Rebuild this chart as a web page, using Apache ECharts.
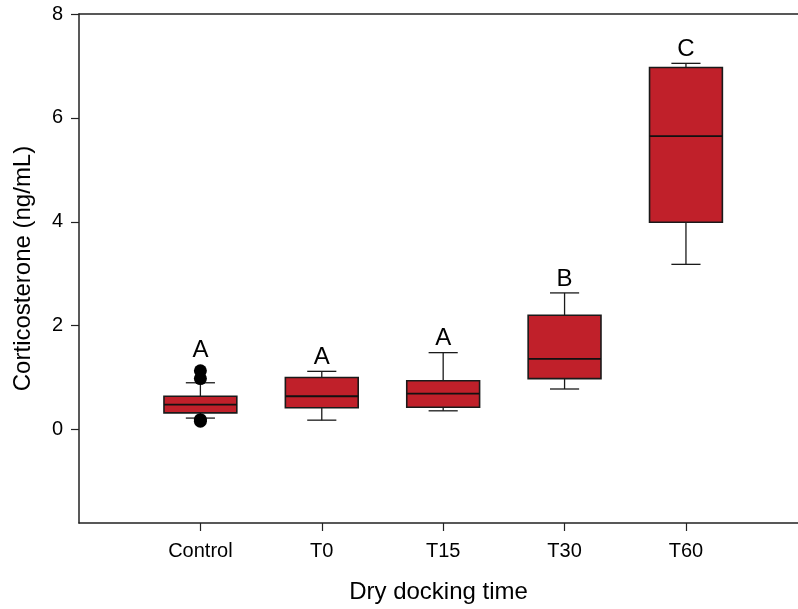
<!DOCTYPE html>
<html>
<head>
<meta charset="utf-8">
<script src="https://cdn.jsdelivr.net/npm/echarts@6/dist/echarts.min.js"></script>
<style>html,body{margin:0;padding:0;background:#fff}#c{width:798px;height:609px}</style>
</head>
<body>
<div id="c"></div>
<script>
const categories = ['Control', 'T0', 'T15', 'T30', 'T60'];
const whiskerLow  = [0.22, 0.18, 0.36, 0.78, 3.18];
const q1          = [0.32, 0.42, 0.43, 0.98, 3.99];
const median      = [0.48, 0.64, 0.69, 1.36, 5.65];
const q3          = [0.64, 1.00, 0.94, 2.20, 6.97];
const whiskerHigh = [0.90, 1.12, 1.48, 2.63, 7.05];
const outlierGroup = [0, 0, 0, 0];
const outlierValue = [1.13, 0.98, 0.19, 0.16];
const letters = ['A', 'A', 'A', 'B', 'C'];
const yTicks = [0, 2, 4, 6, 8];

const FONT = "'Liberation Sans', Arial, sans-serif";
const boxData = categories.map((c, i) => [i + 1, whiskerLow[i], q1[i], median[i], q3[i], whiskerHigh[i]]);
const outlierData = outlierGroup.map((g, i) => [g + 1, outlierValue[i]]);
const letterData = categories.map((c, i) => {
  let top = whiskerHigh[i];
  let hasOut = false;
  outlierGroup.forEach((g, k) => { if (g === i && outlierValue[k] > top) { top = outlierValue[k]; hasOut = true; } });
  return { value: [i + 1, top], label: { distance: hasOut ? 8 : 2 } };
});

const X_MAX = 5.923;
const chart = echarts.init(document.getElementById('c'));
chart.setOption({
  animation: false,
  backgroundColor: '#fff',
  grid: { left: 79, top: 14, right: 0, bottom: 86, containLabel: false },
  xAxis: [{
    type: 'value', min: 0, max: X_MAX, position: 'bottom',
    axisLine: { show: true, onZero: false, lineStyle: { color: '#222', width: 1.5 } },
    axisTick: { show: true, length: 8, customValues: [1, 2, 3, 4, 5], lineStyle: { color: '#222', width: 1.2 } },
    axisLabel: { customValues: [1, 2, 3, 4, 5], formatter: v => categories[Math.round(v) - 1] || '',
      margin: 18, fontSize: 20, color: '#000', fontFamily: FONT },
    splitLine: { show: false },
    name: 'Dry docking time', nameLocation: 'middle', nameGap: 57,
    nameTextStyle: { fontSize: 24, color: '#000', fontFamily: FONT }
  }, {
    type: 'value', min: 0, max: X_MAX, position: 'top',
    axisLine: { show: true, onZero: false, lineStyle: { color: '#222', width: 1.5 } },
    axisTick: { show: false }, axisLabel: { show: false }, splitLine: { show: false }
  }],
  yAxis: {
    type: 'value', min: -1.8, max: 8,
    axisLine: { show: true, onZero: false, lineStyle: { color: '#222', width: 1.5 } },
    axisTick: { show: true, length: 8, customValues: yTicks, lineStyle: { color: '#222', width: 1.2 } },
    axisLabel: { customValues: yTicks, margin: 16, fontSize: 20, color: '#000', fontFamily: FONT },
    splitLine: { show: false },
    name: 'Corticosterone (ng/mL)', nameLocation: 'middle', nameGap: 44,
    nameTextStyle: { fontSize: 24, color: '#000', fontFamily: FONT }
  },
  series: [{
    type: 'custom',
    data: boxData,
    encode: { x: 0, y: [1, 2, 3, 4, 5] },
    renderItem: function (params, api) {
      const x = api.value(0);
      const pLow = api.coord([x, api.value(1)]);
      const pQ1 = api.coord([x, api.value(2)]);
      const pMed = api.coord([x, api.value(3)]);
      const pQ3 = api.coord([x, api.value(4)]);
      const pHigh = api.coord([x, api.value(5)]);
      const bw = api.size([0.6, 0])[0];
      const cw = api.size([0.24, 0])[0];
      const cx = pMed[0];
      const line = { stroke: '#1a1a1a', lineWidth: 1.3 };
      return {
        type: 'group',
        children: [
          { type: 'line', shape: { x1: cx, y1: pHigh[1], x2: cx, y2: pQ3[1] }, style: line },
          { type: 'line', shape: { x1: cx, y1: pQ1[1], x2: cx, y2: pLow[1] }, style: line },
          { type: 'line', shape: { x1: cx - cw / 2, y1: pHigh[1], x2: cx + cw / 2, y2: pHigh[1] }, style: line },
          { type: 'line', shape: { x1: cx - cw / 2, y1: pLow[1], x2: cx + cw / 2, y2: pLow[1] }, style: line },
          { type: 'rect', shape: { x: cx - bw / 2, y: pQ3[1], width: bw, height: pQ1[1] - pQ3[1] },
            style: { fill: '#C0202A', stroke: '#1a1a1a', lineWidth: 1.6 } },
          { type: 'line', shape: { x1: cx - bw / 2, y1: pMed[1], x2: cx + bw / 2, y2: pMed[1] },
            style: { stroke: '#111', lineWidth: 1.8 } }
        ]
      };
    }
  }, {
    type: 'scatter',
    data: outlierData,
    symbol: 'circle', symbolSize: 13,
    itemStyle: { color: '#000', opacity: 1 },
    z: 5
  }, {
    type: 'scatter',
    data: letterData,
    symbol: 'circle', symbolSize: 0,
    itemStyle: { color: '#000', opacity: 1 },
    label: { show: true, position: 'top', formatter: p => letters[p.dataIndex],
      fontSize: 24, color: '#000', opacity: 1, fontFamily: FONT },
    z: 6
  }]
});
</script>
</body>
</html>
